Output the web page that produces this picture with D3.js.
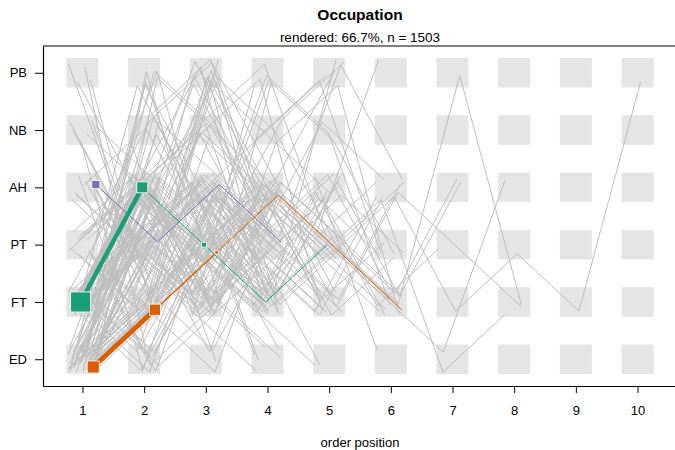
<!DOCTYPE html>
<html>
<head>
<meta charset="utf-8">
<script src="https://cdn.jsdelivr.net/npm/d3@7"></script>
<style>
  html, body { margin: 0; padding: 0; background: #ffffff; }
  svg { display: block; font-family: "Liberation Sans", Arial, sans-serif; }
</style>
</head>
<body>
<svg id="chart" width="675" height="450"></svg>
<script>
// ---------------- data ----------------
const states = ["ED", "FT", "PT", "AH", "NB", "PB"];           // bottom -> top
const stateCodes = { E: "ED", F: "FT", P: "PT", A: "AH", N: "NB", B: "PB" };
const positions = [1, 2, 3, 4, 5, 6, 7, 8, 9, 10];
const titleText = "Occupation";
const subtitleText = "rendered: 66.7%, n = 1503";
const xLabelText = "order position";

// gray (non-highlighted) distinct-state sequences, one letter per order position
const grayPatterns = [
  "EFPAPAFPFB","EPAFPFBF","FPAPFAEF","EPFAPFEA","EFPAFAPF","EFPFAFP","FAPFPFA","EPAFAFA","EFPAPA","EAPFPB",
  "EAPB","EFAP","EPFA","EAFP","EFBP","EPBA","ENPF","EAPFA","EFAPF","EPAP",
  "EBAF","EFPF","EAP","EFN","EPAF","EFAFP","EANF","EPFAP","EFPA","EBFP",
  "EAFA","EPNA","EFPFA","EAPAF","EFBA","EPFPE","ENAP","EAFPAF","EAF","EPA",
  "EFAPFA","FPAPF","FAPFA","FPA","FAB","FEPA","FPFA","FANP","FBPF","FAPE",
  "FPAE","FEAP","FAPF","FNPA","FPAFP","FEP","FAPFAP","FPEA","FBAP","FAE",
  "FPFE","FEFP","FAPAF","FPBF","FAFPAE","FPAFB","FPFAPF","PFA","PABF","PEAF",
  "PFBA","PAFP","PEFA","PAF","PBFE","PFAPF","PANP","PAPFE","PFEA","EPAPFP",
  "APFA","AFPF","APBF","AEPF","AFAP","APFE","ANPF","AFEP","APAPF","AFB",
  "NPFA","NAFP","NFPA","NEAF","NPAE","NAP","BPFA","BFAP","BAPF","BEPA",
  "EPFAB","FAPNBP","EFAPBA","FPANB","EAFNBF","FPNAP","EFBNA","EAPNB","FEAPNA","EPFBNP",
  "FAPAPF","EPAPFA","FPAPAF","EAFAPF","FPFAPA","EFAPAP","PAFAPF","FAPAFP","EPAFPA","FEPAPF",
  "EPBNPF","FANBP","EBNAP","FPBAF","ENBPA","EFNBF","FBNPA","EAPBNF","PNBAF","ENFB"
];
// per-sequence jitter inside the cell (fraction of half cell; x right, y down)
const grayJitter = [
  [0.2,0.65],[0.47,0.2],[-0.62,0.9],[-0.6,-0.5],[0.47,0.35],[-0.9,0.3],[0.3,-0.6],[0.55,-0.4],[0.85,-0.35],[-0.8,-0.9],
  [0.1,0.5],[-0.3,-0.7],[0.75,0.1],[-0.55,0.6],[0.35,-0.2],[-0.8,0.8],[0.6,-0.9],[-0.15,0.3],[0.9,0.75],[-0.45,-0.3],
  [0.05,0.85],[0.65,-0.55],[-0.7,0.05],[0.25,0.45],[-0.35,-0.85],[0.8,0.2],[-0.05,-0.45],[0.45,0.95],[-0.85,0.55],[0.15,-0.1],
  [0.55,0.7],[-0.25,0.15],[0.7,-0.8],[-0.65,-0.15],[0.3,0.6],[-0.6,0.4],[0.95,-0.6],[-0.4,0.9],[0.85,0.05],[-0.1,-0.65],
  [-0.95,0.7],[0.4,-0.25],[-0.75,0.35],[0.2,-0.9],[0.6,0.5],[-0.2,0.8],[0.9,-0.4],[-0.5,0.1],[0.1,0.65],[0.7,-0.75],
  [-0.85,-0.3],[0.35,0.9],[-0.3,-0.6],[0.8,0.3],[-0.05,0.55],[0.5,-0.15],[-0.7,0.75],[0.25,-0.5],[-0.45,0.95],[0.65,0.15],
  [-0.15,-0.85],[0.95,0.45],[-0.55,-0.05],[0.15,0.25],[-0.9,-0.7],[0.45,-0.95],[-0.35,0.5],[0.5,0.6],[-0.35,-0.4],[0.75,0.85],
  [-0.8,0.2],[0.05,-0.75],[0.4,0.4],[-0.6,-0.9],[0.85,-0.1],[-0.2,0.7],[0.3,-0.35],[-0.9,0.45],[0.6,0.9],[-0.4,-0.2],
  [-0.5,0.35],[0.2,-0.45],[0.7,0.65],[-0.25,-0.8],[0.9,0.1],[-0.7,0.85],[0.1,-0.15],[0.45,-0.65],[-0.4,0.55],[0.8,-0.9],
  [-0.8,-0.5],[0.3,0.3],[0.6,-0.7],[-0.1,0.8],[-0.6,0.05],[0.85,-0.3],[-0.9,-0.6],[0.5,0.45],[-0.3,0.7],[0.15,-0.4],
  [0.35,-0.15],[-0.65,0.55],[0.75,-0.55],[-0.25,0.25],[0.55,0.9],[-0.85,-0.05],[0.05,0.4],[0.95,-0.75],[-0.45,-0.55],[0.25,0.7],
  [-0.75,0.65],[0.6,-0.2],[-0.1,-0.9],[0.4,0.15],[-0.55,0.75],[0.8,0.55],[-0.3,-0.25],[0.15,0.95],[-0.95,-0.35],[0.7,-0.45],
  [0.5,0.1],[-0.2,-0.6],[0.85,0.35],[-0.7,-0.8],[0.3,-0.95],[-0.5,0.45],[0.65,-0.1],[-0.05,0.2],[0.4,-0.7],[-0.85,0.9]
];

// highlighted frequent patterns
const hiPatterns = ["APAP", "EFPAPF", "FAPFP"];
const hiColors = ["#7570B3", "#D95F02", "#1B9E77"];
const hiJitter = [[0.87,-0.2],[0.7,0.55],[-0.12,0.0]];
const hiSegFreq = [[1,1,1],[40,5,1,1,1],[35,1,1,1]];     // transition frequencies
const hiNodeFreq = [[16],[36,31,3],[100,30,6]];           // node frequencies (squares)

// ---------------- layout ----------------
const svg = d3.select("#chart");
const x = d3.scaleLinear().domain([0.36, 10.64]).range([43, 677]);
const y = d3.scaleLinear().domain([-0.467, 5.467]).range([386, 46]);
const halfW = 0.26, halfH = 0.257;
const widthScale = d3.scaleLinear().domain([1, 40]).range([1, 5]);
const sizeScale = d3.scaleSqrt().domain([0, 100]).range([0, 20]);

const px = (pos, j) => x(pos + j * halfW * 0.96);
const py = (si, j) => y(si - j * halfH * 0.96);

// cells
const cells = [];
positions.forEach(p => states.forEach((s, i) => cells.push({ p, i })));
svg.append("g").selectAll("rect").data(cells).join("rect")
  .attr("x", d => x(d.p - halfW)).attr("width", d => x(d.p + halfW) - x(d.p - halfW))
  .attr("y", d => y(d.i + halfH)).attr("height", d => y(d.i - halfH) - y(d.i + halfH))
  .attr("fill", "#e5e5e5");

// gray lines
const toPts = (pat, j) => pat.split("").map((c, k) => [px(k + 1, j[0]), py(states.indexOf(stateCodes[c]), j[1])]);
const line = d3.line();
svg.append("g").selectAll("path").data(grayPatterns).join("path")
  .attr("d", (d, i) => line(toPts(d, grayJitter[i] || [0, 0])))
  .attr("fill", "none").attr("stroke", "#bebebe").attr("stroke-width", 1)
  .attr("stroke-linejoin", "miter");

// highlighted lines
const hg = svg.append("g");
hiPatterns.forEach((pat, h) => {
  const pts = toPts(pat, hiJitter[h]);
  for (let k = 0; k < pts.length - 1; k++) {
    hg.append("line")
      .attr("x1", pts[k][0]).attr("y1", pts[k][1])
      .attr("x2", pts[k + 1][0]).attr("y2", pts[k + 1][1])
      .attr("stroke", hiColors[h]).attr("stroke-width", widthScale(hiSegFreq[h][k]))
      .attr("stroke-linecap", "butt");
  }
});
hiPatterns.forEach((pat, h) => {
  const pts = toPts(pat, hiJitter[h]);
  hiNodeFreq[h].forEach((f, k) => {
    const s = sizeScale(f);
    hg.append("rect")
      .attr("x", pts[k][0] - s / 2).attr("y", pts[k][1] - s / 2)
      .attr("width", s).attr("height", s)
      .attr("fill", hiColors[h]).attr("stroke", "#ffffff").attr("stroke-width", 0.8);
  });
});

// frame (top line; left and bottom come from the axes)
svg.append("line").attr("x1", 43).attr("x2", 677).attr("y1", 46).attr("y2", 46)
  .attr("stroke", "#000").attr("stroke-width", 1.2);

// axes
const xAxis = d3.axisBottom(x).tickValues(positions).tickSize(7).tickSizeOuter(0).tickPadding(13);
const gx = svg.append("g").attr("transform", "translate(0,386)").call(xAxis);
gx.select(".domain").attr("stroke-width", 1.2);
gx.selectAll("text").attr("font-size", 13).attr("fill", "#000").style("font-family", "Liberation Sans, Arial, sans-serif");

const yAxis = d3.axisLeft(y).tickValues(d3.range(states.length)).tickFormat(i => states[i])
  .tickSize(8).tickSizeOuter(0).tickPadding(8);
const gy = svg.append("g").attr("transform", "translate(43,0)").call(yAxis);
gy.select(".domain").attr("stroke-width", 1.2);
gy.selectAll("text").attr("font-size", 13).attr("fill", "#000").style("font-family", "Liberation Sans, Arial, sans-serif");

// titles
svg.append("text").attr("x", 360).attr("y", 20).attr("text-anchor", "middle")
  .attr("font-size", 15.5).attr("font-weight", "bold").text(titleText);
svg.append("text").attr("x", 360).attr("y", 42).attr("text-anchor", "middle")
  .attr("font-size", 13.5).text(subtitleText);
svg.append("text").attr("x", 360).attr("y", 447).attr("text-anchor", "middle")
  .attr("font-size", 13).text(xLabelText);
</script>
</body>
</html>
